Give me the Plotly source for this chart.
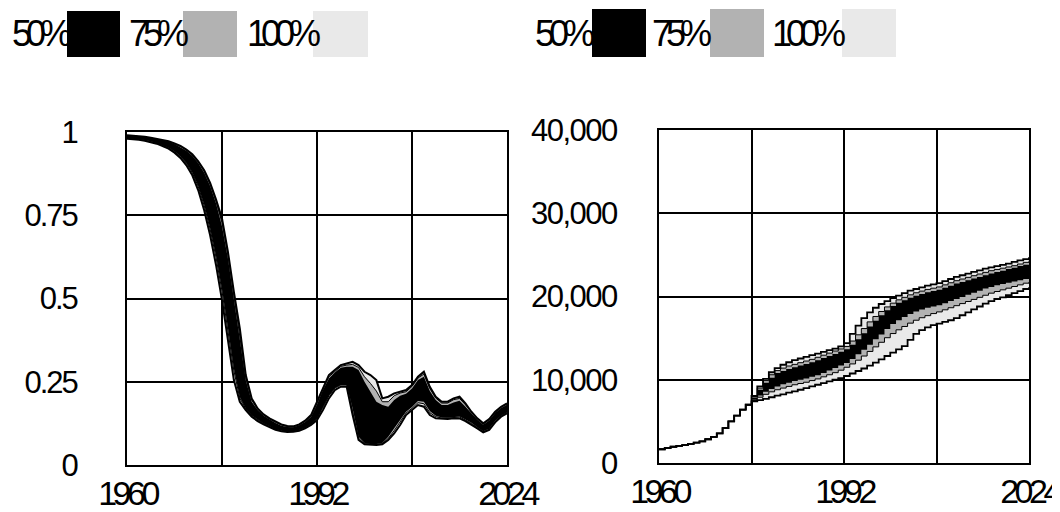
import plotly.graph_objects as go

YEARS = list(range(1960, 2025))

# ---- Left panel (fraction, 0..1) ----
L_lo100 = [.980,.979,.977,.974,.970,.965,.958,.950,.938,.922,
           .900,.870,.825,.765,.690,.600,.495,.380,.255,.190,
           .165,.145,.132,.122,.113,.106,.101,.099,.100,.103,
           .110,.120,.135,.165,.200,.225,.235,.235,.150,.075,
           .062,.060,.060,.062,.075,.095,.120,.150,.165,.180,
           .175,.150,.140,.138,.138,.140,.140,.132,.122,.110,
           .098,.105,.128,.145,.155]
L_lo75 = [.981,.980,.978,.975,.972,.967,.960,.952,.941,.926,
          .906,.878,.836,.779,.708,.623,.522,.404,.283,.201,
          .169,.148,.135,.124,.115,.108,.102,.100,.101,.104,
          .112,.123,.140,.172,.208,.231,.240,.240,.160,.080,
          .064,.062,.062,.064,.080,.103,.130,.156,.170,.187,
          .184,.157,.145,.141,.141,.143,.144,.135,.125,.112,
          .100,.107,.130,.147,.157]
L_lo50 = [.981,.980,.978,.976,.972,.967,.960,.953,.942,.927,
          .907,.879,.838,.782,.712,.628,.528,.412,.290,.204,
          .170,.149,.136,.125,.116,.108,.103,.100,.101,.105,
          .112,.123,.140,.172,.208,.231,.240,.240,.170,.085,
          .066,.063,.063,.066,.085,.110,.136,.160,.174,.192,
          .190,.162,.148,.143,.142,.145,.146,.137,.127,.113,
          .101,.109,.132,.148,.158]
L_hi50 = [.989,.988,.986,.985,.982,.979,.975,.971,.964,.955,
          .944,.929,.907,.878,.838,.785,.717,.620,.498,.375,
          .255,.190,.165,.148,.136,.126,.118,.114,.113,.119,
          .129,.145,.182,.225,.260,.278,.292,.295,.295,.285,
          .250,.220,.190,.180,.175,.195,.208,.214,.230,.255,
          .265,.222,.195,.180,.180,.188,.193,.175,.155,.136,
          .121,.134,.156,.171,.181]
L_hi75 = [.989,.988,.986,.985,.982,.979,.975,.971,.965,.957,
          .946,.931,.910,.882,.843,.792,.728,.630,.510,.392,
          .262,.195,.168,.150,.138,.128,.120,.116,.115,.121,
          .131,.148,.186,.230,.265,.282,.296,.300,.302,.293,
          .265,.245,.222,.190,.190,.208,.216,.220,.236,.261,
          .273,.230,.201,.186,.186,.196,.200,.181,.158,.138,
          .123,.136,.158,.173,.183]
L_hi100 = [.990,.989,.987,.986,.983,.980,.976,.972,.966,.958,
           .947,.933,.912,.885,.847,.797,.740,.640,.520,.410,
           .270,.200,.170,.152,.140,.130,.122,.117,.116,.122,
           .133,.150,.190,.235,.270,.285,.300,.305,.310,.300,
           .280,.270,.255,.200,.205,.215,.220,.225,.240,.265,
           .280,.235,.205,.190,.190,.200,.205,.185,.160,.140,
           .125,.138,.160,.175,.185]

# ---- Right panel (count, 0..40000) ----
R_EARLY = [1650,1800,1950,2050,2150,2300,2450,2600,2850,3150,
           3550,4200,5000,5700,6400,7000]  # 1960-1975, single trajectory
R_lo100 = R_EARLY + [7400,7550,7700,7900,8100,8250,8450,8600,8800,9000,
                     9200,9400,9600,9800,10000,10200,10450,10750,11050,11350,
                     11700,12050,12450,12850,13250,13650,14050,14800,15500,15950,
                     16300,16550,16750,16950,17150,17400,17750,18100,18450,18800,
                     19150,19450,19700,19900,20150,20400,20650,20900,21100]
R_lo75 = R_EARLY + [7500,7900,8250,8550,8800,9000,9200,9400,9550,9700,
                    9900,10100,10350,10600,10850,11150,11500,11900,12350,12850,
                    13400,13950,14500,15050,15550,16000,16400,16800,17150,17450,
                    17700,17950,18150,18400,18650,18900,19150,19400,19650,19900,
                    20150,20400,20600,20800,21000,21200,21400,21600,21750]
R_lo50 = R_EARLY + [7600,8100,8550,8900,9200,9450,9650,9850,10000,10150,
                    10350,10550,10800,11100,11400,11700,12000,12500,13050,13600,
                    14200,14850,15450,16100,16700,17150,17550,17900,18200,18450,
                    18650,18800,18950,19200,19450,19700,19950,20200,20450,20700,
                    20950,21150,21350,21500,21650,21800,21950,22100,22250]
R_hi50 = R_EARLY + [7850,8800,9650,10250,10800,11050,11300,11500,11700,11900,
                    12100,12350,12600,12850,13100,13350,13650,14200,14850,15600,
                    16400,17100,17750,18350,18850,19250,19550,19850,20100,20300,
                    20500,20650,20800,21050,21300,21550,21750,21950,22150,22350,
                    22550,22750,22950,23100,23300,23450,23650,23800,24000]
R_hi75 = R_EARLY + [7950,9000,9900,10600,11100,11400,11650,11850,12050,12250,
                    12450,12700,12950,13200,13450,13700,14000,14650,15400,16150,
                    16950,17600,18200,18750,19200,19600,19900,20200,20450,20650,
                    20850,21000,21150,21400,21650,21900,22100,22300,22500,22700,
                    22900,23100,23250,23400,23550,23700,23900,24100,24300]
R_hi100 = R_EARLY + [8050,9200,10100,10900,11400,11800,12100,12350,12550,12750,
                     12950,13150,13350,13550,13750,14000,14400,15500,16500,17400,
                     18100,18650,19100,19450,19800,20100,20400,20700,20900,21100,
                     21300,21450,21600,21850,22100,22350,22550,22750,22950,23150,
                     23350,23500,23650,23800,23950,24150,24350,24500,24700]

X_TICKS = [1960, 1976, 1992, 2008, 2024]
X_LABELS = ["1960", "", "1992", "", "2024"]
L_TICKS = [0, 0.25, 0.5, 0.75, 1]
L_LABELS = ["0", "0.25", "0.5", "0.75", "1"]
R_TICKS = [0, 10000, 20000, 30000, 40000]
R_LABELS = ["0", "10,000", "20,000", "30,000", "40,000"]
LEGEND_LABELS = ["50%", "75%", "100%"]

LIGHT = "#e9e9e9"
GRAY = "#b2b2b2"
BLACK = "#000000"
FONT = "Liberation Sans, Arial, sans-serif"

# the page body adds an 8 px offset; size the figure to fill the rest of the window
OFF = 8
W, H = 1060 - OFF, 512 - OFF


def PX(x):
    return (x - OFF) / W


def PY(y):
    return 1 - (y - OFF) / H


def sp(t, ls):
    return f'<span style="letter-spacing:{ls}px">{t}</span>' if t else ""


fig = go.Figure()


def add_panel(xa, ya, lo100, lo75, lo50, hi50, hi75, hi100, shape, lw):
    for lo, hi, col in ((lo100, hi100, LIGHT), (lo75, hi75, GRAY), (lo50, hi50, BLACK)):
        fig.add_trace(go.Scatter(x=YEARS, y=lo, xaxis=xa, yaxis=ya, mode="lines",
                                 line=dict(width=0, shape=shape), hoverinfo="skip",
                                 showlegend=False))
        fig.add_trace(go.Scatter(x=YEARS, y=hi, xaxis=xa, yaxis=ya, mode="lines",
                                 line=dict(width=0, shape=shape), fill="tonexty",
                                 fillcolor=col, hoverinfo="skip", showlegend=False))
    for arr, w in ((lo75, 1), (hi75, 1), (lo100, lw), (hi100, lw)):
        fig.add_trace(go.Scatter(x=YEARS, y=arr, xaxis=xa, yaxis=ya, mode="lines",
                                 line=dict(color=BLACK, width=w, shape=shape),
                                 hoverinfo="skip", showlegend=False))


add_panel("x", "y", L_lo100, L_lo75, L_lo50, L_hi50, L_hi75, L_hi100, "linear", 2)
add_panel("x2", "y2", R_lo100, R_lo75, R_lo50, R_hi50, R_hi75, R_hi100, "hv", 1.8)

common = dict(showline=True, linecolor=BLACK, linewidth=2, mirror=True,
              showgrid=True, gridcolor=BLACK, gridwidth=2, zeroline=False,
              ticks="", fixedrange=True, automargin=False)
xfont = dict(family=FONT, size=34, color=BLACK)
yfont = dict(family=FONT, size=31, color=BLACK)

fig.update_layout(
    template="none",
    width=W, height=H, autosize=False,
    margin=dict(l=0, r=0, t=0, b=0, pad=0),
    paper_bgcolor="white", plot_bgcolor="white",
    showlegend=False,
    xaxis=dict(domain=[PX(127), PX(507)], range=[1960, 2024], anchor="y",
               tickvals=X_TICKS, ticktext=[sp(t, -4.5) for t in X_LABELS],
               tickfont=xfont, ticklabelstandoff=-3, **common),
    yaxis=dict(domain=[PY(465), PY(132)], range=[0, 1], anchor="x",
               tickvals=L_TICKS, ticktext=[sp(t, -2) for t in L_LABELS],
               tickfont=yfont, ticklabelstandoff=42, **common),
    xaxis2=dict(domain=[PX(659), PX(1029)], range=[1960, 2024], anchor="y2",
                tickvals=X_TICKS, ticktext=[sp(t, -4.5) for t in X_LABELS],
                tickfont=xfont, ticklabelstandoff=-3, ticklabeloverflow="allow",
                **common),
    yaxis2=dict(domain=[PY(463), PY(130)], range=[0, 40000], anchor="x2",
                tickvals=R_TICKS, ticktext=[sp(t, -1.5) for t in R_LABELS],
                tickfont=yfont, ticklabelstandoff=34, **common),
)

# legends (custom, as in the source: label followed by colour swatch)
legend_sets = [
    ([10, 127, 245], [(67, 120), (183, 237), (313, 368)], (11, 57)),
    ([533, 650, 770], [(592, 646), (710, 764), (842, 896)], (9, 57)),
]
sw_cols = [BLACK, GRAY, LIGHT]
for txs, sws, (sy0, sy1) in legend_sets:
    for lab, tx, (x0, x1), col in zip(LEGEND_LABELS, txs, sws, sw_cols):
        fig.add_annotation(x=PX(tx), y=PY(33), xref="paper", yref="paper",
                           xanchor="left", yanchor="middle", showarrow=False,
                           text=sp(lab, -6), font=dict(family=FONT, size=36, color=BLACK))
        fig.add_shape(type="rect", xref="paper", yref="paper",
                      x0=PX(x0), x1=PX(x1), y0=PY(sy1), y1=PY(sy0),
                      fillcolor=col, line=dict(width=0), layer="above")

fig.write_html("out.html")
